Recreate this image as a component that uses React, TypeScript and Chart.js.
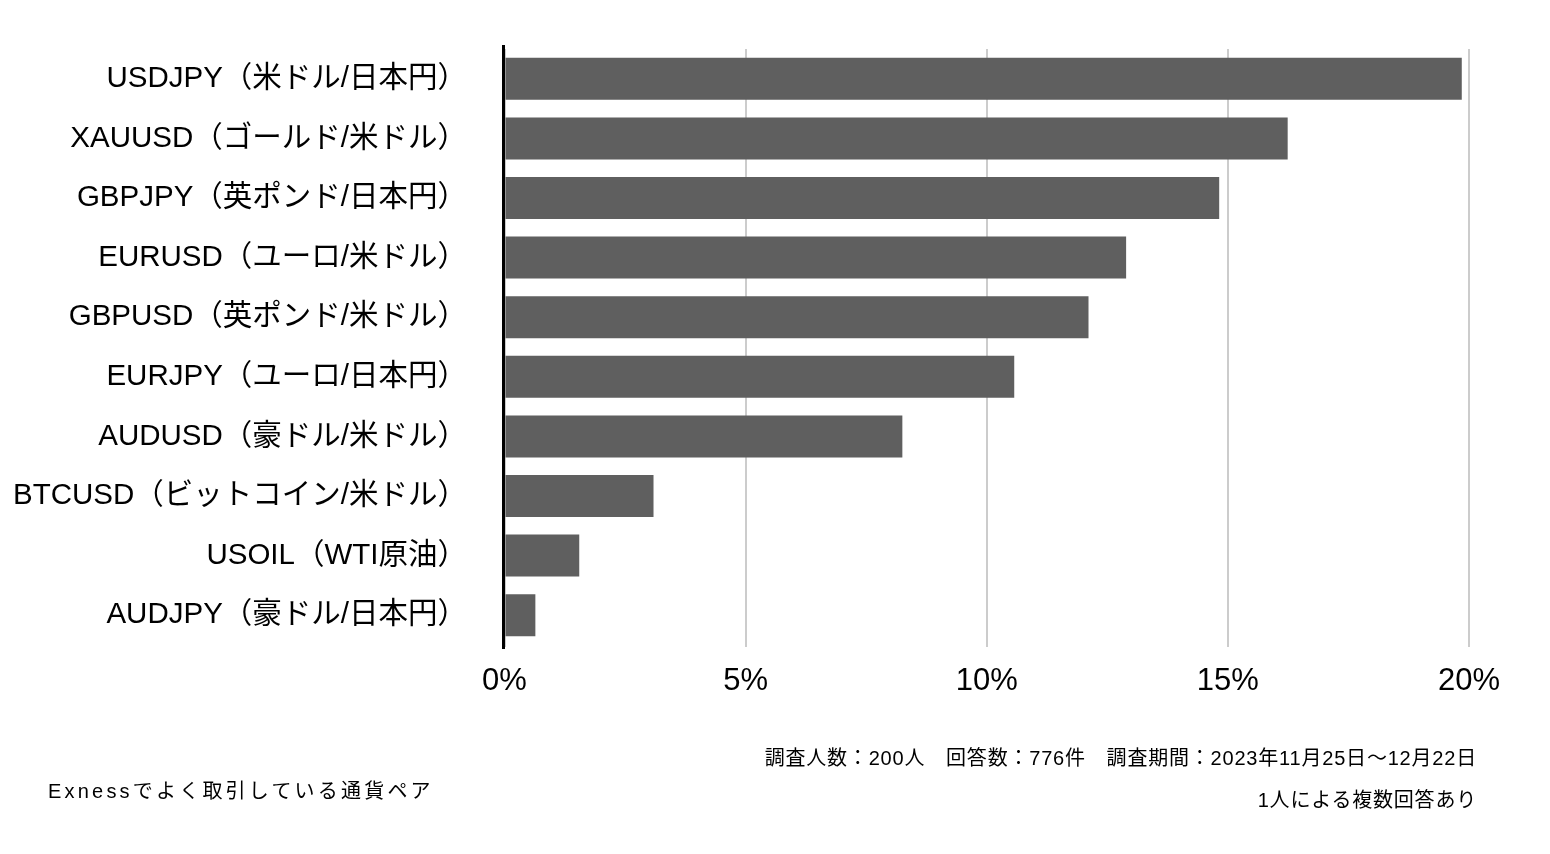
import React, { useEffect, useRef } from "react";
import { Chart, registerables } from "chart.js";

Chart.register(...registerables);

const categories = [
  "USDJPY（米ドル/日本円）",
  "XAUUSD（ゴールド/米ドル）",
  "GBPJPY（英ポンド/日本円）",
  "EURUSD（ユーロ/米ドル）",
  "GBPUSD（英ポンド/米ドル）",
  "EURJPY（ユーロ/日本円）",
  "AUDUSD（豪ドル/米ドル）",
  "BTCUSD（ビットコイン/米ドル）",
  "USOIL（WTI原油）",
  "AUDJPY（豪ドル/日本円）",
];
const shares = [19.85, 16.24, 14.82, 12.89, 12.11, 10.57, 8.25, 3.09, 1.55, 0.64];
const xTicks = [0, 5, 10, 15, 20];
const noteLine1 = "調査人数：200人　回答数：776件　調査期間：2023年11月25日～12月22日";
const noteLine2 = "1人による複数回答あり";
const caption = "Exnessでよく取引している通貨ペア";

const FONT = "'Liberation Sans', Arial, 'Noto Sans CJK JP', sans-serif";

const axisLinePlugin = {
  id: "axisLine",
  afterDatasetsDraw(chart: any) {
    const { ctx, chartArea, scales } = chart;
    const x0 = scales.x.getPixelForValue(0) - 1;
    ctx.save();
    ctx.strokeStyle = "#000";
    ctx.lineWidth = 3;
    ctx.beginPath();
    ctx.moveTo(x0, chartArea.top - 4);
    ctx.lineTo(x0, chartArea.bottom + 4);
    ctx.stroke();
    ctx.restore();
  },
};

export default function App() {
  const ref = useRef<HTMLCanvasElement>(null);
  useEffect(() => {
    const chart = new Chart(ref.current!, {
      type: "bar",
      data: {
        labels: categories,
        datasets: [
          {
            data: shares,
            backgroundColor: "#5f5f5f",
            barPercentage: 0.705,
            categoryPercentage: 1,
          },
        ],
      },
      options: {
        indexAxis: "y",
        animation: false,
        responsive: false,
        layout: { padding: { left: 0, right: 81, top: 49, bottom: 149 } },
        plugins: { legend: { display: false }, tooltip: { enabled: false } },
        scales: {
          x: {
            min: 0,
            max: 20,
            afterFit: (s: any) => {
              s.height = 60;
              s.paddingLeft = 0;
              s.paddingRight = 0;
            },
            afterBuildTicks: (s: any) => {
              s.ticks = xTicks.map((v) => ({ value: v }));
            },
            ticks: {
              callback: (v: any) => v + "%",
              color: "#000",
              font: { family: FONT, size: 31 },
              padding: 16,
              maxRotation: 0,
            },
            grid: { color: "#cccccc", lineWidth: 2, drawTicks: true, tickLength: 2 },
            border: { display: false },
          },
          y: {
            afterFit: (s: any) => {
              s.width = 504.5;
              s.paddingTop = 0;
              s.paddingBottom = 0;
            },
            ticks: {
              color: "#000",
              font: { family: FONT, size: 29.5 },
              padding: 37.5,
            },
            grid: { display: false, drawTicks: false },
            border: { display: false },
          },
        },
      },
      plugins: [axisLinePlugin],
    });
    return () => chart.destroy();
  }, []);

  const textStyle: React.CSSProperties = {
    position: "absolute",
    fontFamily: FONT,
    color: "#000",
    whiteSpace: "nowrap",
    lineHeight: 1,
  };

  return (
    <div style={{ position: "fixed", left: 0, top: 0, width: 1550, height: 854, background: "#fff" }}>
      <canvas ref={ref} width={1550} height={854} style={{ position: "absolute", left: 0, top: 0 }} />
      <div style={{ ...textStyle, right: 1550 - 1477, top: 748, fontSize: 20, letterSpacing: 0.8 }}>{noteLine1}</div>
      <div style={{ ...textStyle, right: 1550 - 1477, top: 790, fontSize: 20, letterSpacing: 0.8 }}>{noteLine2}</div>
      <div style={{ ...textStyle, left: 48, top: 781, fontSize: 20, letterSpacing: 3.2 }}>{caption}</div>
    </div>
  );
}
